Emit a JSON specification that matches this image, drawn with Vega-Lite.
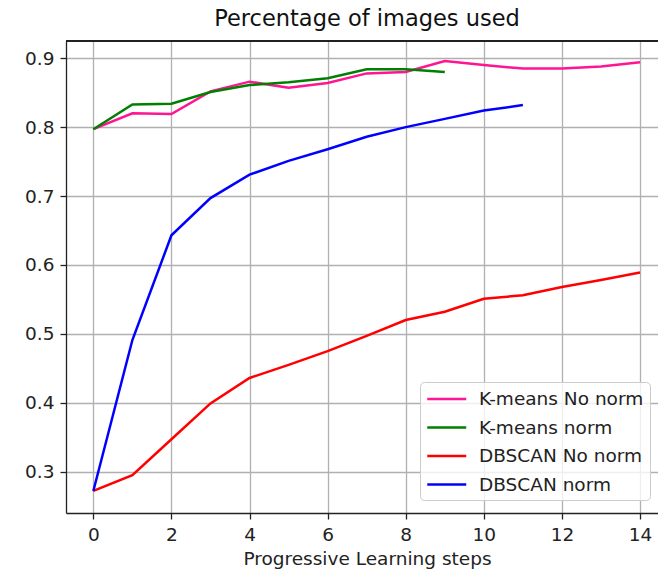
{
  "$schema": "https://vega.github.io/schema/vega-lite/v6.json",
  "width": 592,
  "height": 472,
  "autosize": {"type": "none"},
  "padding": {"left": 66, "top": 41, "right": 0, "bottom": 60},
  "background": "white",
  "config": {
    "font": "DejaVu Sans",
    "view": {"stroke": null},
    "axis": {
      "labelFont": "DejaVu Sans",
      "titleFont": "DejaVu Sans",
      "labelFontSize": 18.5,
      "titleFontSize": 18.5,
      "labelColor": "#222222",
      "titleColor": "#222222",
      "titleFontWeight": "normal",
      "domainColor": "#222222",
      "domainWidth": 1.3,
      "tickColor": "#222222",
      "tickWidth": 1.3,
      "tickSize": 6,
      "grid": true,
      "gridColor": "#b0b0b0",
      "gridWidth": 1.3
    }
  },
  "title": {
    "text": "Percentage of images used",
    "font": "DejaVu Sans",
    "fontSize": 22.5,
    "fontWeight": "normal",
    "color": "#111111",
    "anchor": "middle",
    "dx": 5,
    "offset": 10
  },
  "data": {
    "values": [
      {"series": "K-means No norm", "step": 0, "value": 0.797},
      {"series": "K-means No norm", "step": 1, "value": 0.820},
      {"series": "K-means No norm", "step": 2, "value": 0.819},
      {"series": "K-means No norm", "step": 3, "value": 0.852},
      {"series": "K-means No norm", "step": 4, "value": 0.866},
      {"series": "K-means No norm", "step": 5, "value": 0.857},
      {"series": "K-means No norm", "step": 6, "value": 0.864},
      {"series": "K-means No norm", "step": 7, "value": 0.878},
      {"series": "K-means No norm", "step": 8, "value": 0.880},
      {"series": "K-means No norm", "step": 9, "value": 0.896},
      {"series": "K-means No norm", "step": 10, "value": 0.890},
      {"series": "K-means No norm", "step": 11, "value": 0.885},
      {"series": "K-means No norm", "step": 12, "value": 0.885},
      {"series": "K-means No norm", "step": 13, "value": 0.888},
      {"series": "K-means No norm", "step": 14, "value": 0.894},
      {"series": "K-means norm", "step": 0, "value": 0.797},
      {"series": "K-means norm", "step": 1, "value": 0.833},
      {"series": "K-means norm", "step": 2, "value": 0.834},
      {"series": "K-means norm", "step": 3, "value": 0.851},
      {"series": "K-means norm", "step": 4, "value": 0.861},
      {"series": "K-means norm", "step": 5, "value": 0.865},
      {"series": "K-means norm", "step": 6, "value": 0.871},
      {"series": "K-means norm", "step": 7, "value": 0.884},
      {"series": "K-means norm", "step": 8, "value": 0.884},
      {"series": "K-means norm", "step": 9, "value": 0.880},
      {"series": "DBSCAN No norm", "step": 0, "value": 0.272},
      {"series": "DBSCAN No norm", "step": 1, "value": 0.295},
      {"series": "DBSCAN No norm", "step": 2, "value": 0.347},
      {"series": "DBSCAN No norm", "step": 3, "value": 0.399},
      {"series": "DBSCAN No norm", "step": 4, "value": 0.436},
      {"series": "DBSCAN No norm", "step": 5, "value": 0.455},
      {"series": "DBSCAN No norm", "step": 6, "value": 0.475},
      {"series": "DBSCAN No norm", "step": 7, "value": 0.497},
      {"series": "DBSCAN No norm", "step": 8, "value": 0.520},
      {"series": "DBSCAN No norm", "step": 9, "value": 0.532},
      {"series": "DBSCAN No norm", "step": 10, "value": 0.551},
      {"series": "DBSCAN No norm", "step": 11, "value": 0.556},
      {"series": "DBSCAN No norm", "step": 12, "value": 0.568},
      {"series": "DBSCAN No norm", "step": 13, "value": 0.578},
      {"series": "DBSCAN No norm", "step": 14, "value": 0.589},
      {"series": "DBSCAN norm", "step": 0, "value": 0.272},
      {"series": "DBSCAN norm", "step": 1, "value": 0.491},
      {"series": "DBSCAN norm", "step": 2, "value": 0.643},
      {"series": "DBSCAN norm", "step": 3, "value": 0.697},
      {"series": "DBSCAN norm", "step": 4, "value": 0.731},
      {"series": "DBSCAN norm", "step": 5, "value": 0.751},
      {"series": "DBSCAN norm", "step": 6, "value": 0.768},
      {"series": "DBSCAN norm", "step": 7, "value": 0.786},
      {"series": "DBSCAN norm", "step": 8, "value": 0.800},
      {"series": "DBSCAN norm", "step": 9, "value": 0.812},
      {"series": "DBSCAN norm", "step": 10, "value": 0.824},
      {"series": "DBSCAN norm", "step": 11, "value": 0.832}
    ]
  },
  "layer": [
    {
      "mark": {"type": "line", "strokeWidth": 2.5, "clip": true},
      "encoding": {
        "x": {
          "field": "step",
          "type": "quantitative",
          "scale": {"domain": [-0.7, 14.46], "nice": false, "zero": false},
          "axis": {
            "title": "Progressive Learning steps",
            "grid": true,
            "values": [0, 2, 4, 6, 8, 10, 12, 14],
            "labelPadding": 6,
            "titlePadding": 6,
            "titleX": 301,
            "titleAnchor": "middle",
            "labelFlush": false
          }
        },
        "y": {
          "field": "value",
          "type": "quantitative",
          "scale": {"domain": [0.24, 0.925], "nice": false, "zero": false},
          "axis": {
            "title": null,
            "grid": true,
            "values": [0.3, 0.4, 0.5, 0.6, 0.7, 0.8, 0.9],
            "format": ".1f",
            "labelPadding": 6,
            "labelFlush": false
          }
        },
        "color": {
          "field": "series",
          "type": "nominal",
          "sort": ["K-means No norm", "K-means norm", "DBSCAN No norm", "DBSCAN norm"],
          "scale": {
            "domain": ["K-means No norm", "K-means norm", "DBSCAN No norm", "DBSCAN norm"],
            "range": ["#ff1493", "#008000", "#ff0000", "#0000ff"]
          },
          "legend": {
            "title": null,
            "orient": "none",
            "legendX": 354,
            "legendY": 341,
            "padding": 6,
            "fillColor": "rgba(255,255,255,0.8)",
            "strokeColor": "#cccccc",
            "cornerRadius": 4,
            "symbolType": "M-1,0H3",
            "symbolSize": 380,
            "symbolStrokeWidth": 2.5,
            "labelFont": "DejaVu Sans",
            "labelFontSize": 18.5,
            "labelColor": "#222222",
            "labelOffset": 31,
            "labelLimit": 0,
            "rowPadding": 7.5
          }
        }
      }
    },
    {
      "mark": {"type": "rule", "color": "#222222", "strokeWidth": 1.3},
      "encoding": {"y": {"datum": 0.925, "type": "quantitative"}}
    }
  ]
}
